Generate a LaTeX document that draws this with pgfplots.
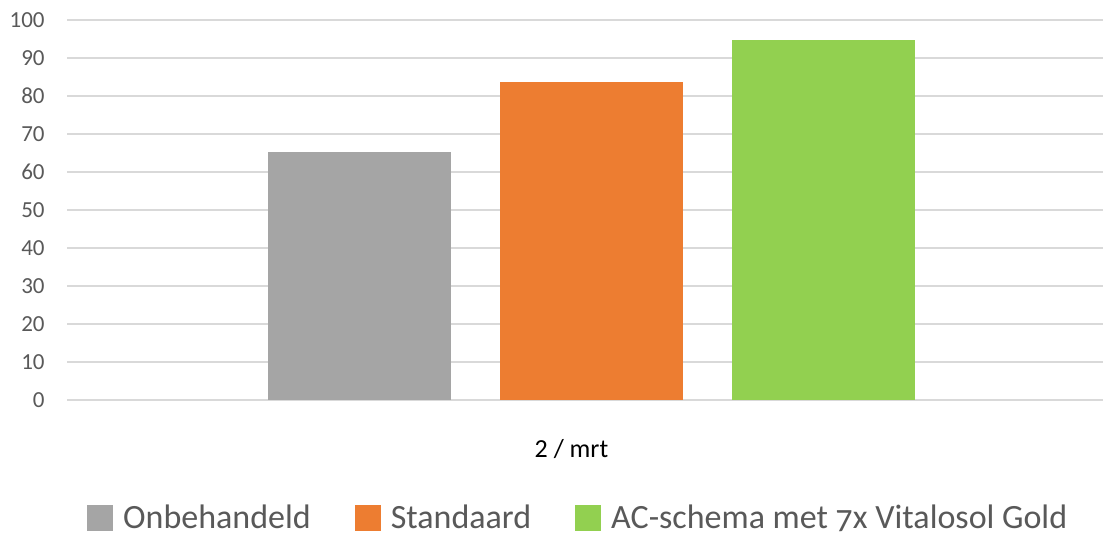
\documentclass[border=0pt]{standalone}
\usepackage{fontspec}
\setmainfont{Carlito}
\usepackage{pgfplots}
\pgfplotsset{compat=1.18}
\definecolor{cgray}{HTML}{A5A5A5}
\definecolor{corange}{HTML}{ED7D31}
\definecolor{cgreen}{HTML}{92D050}
\definecolor{cgrid}{HTML}{D9D9D9}
\definecolor{ctext}{HTML}{595959}
\begin{document}
\begin{tikzpicture}
\begin{axis}[
    at={(0pt,0pt)}, anchor=south west,
    scale only axis,
    width=518pt, height=190pt,
    xmin=67, xmax=1103,
    ymin=0, ymax=100,
    ytick={0,10,...,100},
    xtick={591.5},
    xticklabels={2 / mrt},
    ymajorgrids,
    grid style={cgrid, line width=1pt},
    axis line style={draw=none},
    major tick length=0pt,
    /pgf/number format/assume math mode=true,
    y tick label style={font=\fontsize{11.5}{13}\selectfont, color=ctext, anchor=east, inner sep=0pt, xshift=-11pt},
    x tick label style={font=\fontsize{13}{15}\selectfont, color=black, yshift=-16pt, xshift=-10pt},
    ybar, bar width=183, bar shift=0pt,
    legend columns=3,
    legend style={draw=none, at={(0.4944,-0.31)}, anchor=center,
        font=\fontsize{17}{19}\selectfont, text=ctext,
        /tikz/every odd column/.append style={column sep=3pt},
        /tikz/every even column/.append style={column sep=20pt}},
    legend image code/.code={\fill[#1] (0pt,-6.5pt) rectangle (13pt,6.5pt);},
]
\draw[cgrid, line width=1pt] (axis cs:67,0) -- (axis cs:1103,0);
\addplot[fill=cgray, draw=none] coordinates {(359,65.3)};
\addplot[fill=corange, draw=none] coordinates {(591.5,83.7)};
\addplot[fill=cgreen, draw=none] coordinates {(823.5,94.8)};
\legend{Onbehandeld, Standaard, AC-schema met {\addfontfeatures{Numbers=OldStyle}7}x Vitalosol Gold}
\end{axis}
\pgfresetboundingbox
\path (-33.5pt,-67pt) rectangle (518pt,200pt);
\end{tikzpicture}
\end{document}
